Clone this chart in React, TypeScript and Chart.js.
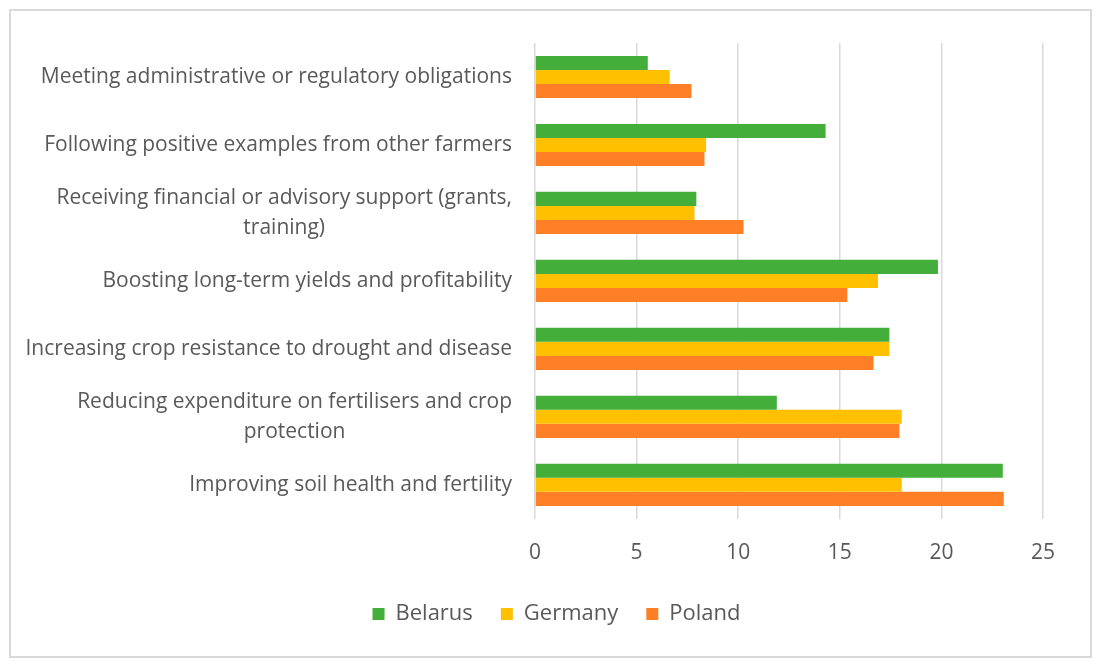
import React, { useEffect, useRef } from 'react'
import { Chart, registerables } from 'chart.js'

Chart.register(...registerables)

const FONT = '"Open Sans", sans-serif'
const TEXT = '#595959'
const GRID = '#D9D9D9'

const categories: string[][] = [
  ['Meeting administrative or regulatory obligations'],
  ['Following positive examples from other farmers'],
  ['Receiving financial or advisory support (grants,', 'training)'],
  ['Boosting long-term yields and profitability'],
  ['Increasing crop resistance to drought and disease'],
  ['Reducing expenditure on fertilisers and crop', 'protection'],
  ['Improving soil health and fertility'],
]

const belarus = [5.55, 14.3, 7.94, 19.83, 17.44, 11.9, 23.02]
const germany = [6.63, 8.42, 7.85, 16.88, 17.44, 18.05, 18.05]
const poland = [7.7, 8.34, 10.26, 15.37, 16.66, 17.93, 23.07]

const xTicks = [0, 5, 10, 15, 20, 25]

// draws the category labels: right edge at the axis, extra lines centred under the first
const categoryLabels = {
  id: 'categoryLabels',
  afterDraw(chart: Chart) {
    const y = chart.scales.y
    const ctx = chart.ctx
    const right = chart.chartArea.left - 23
    const lineH = 30
    ctx.save()
    ctx.font = `21px ${FONT}`
    ctx.fillStyle = TEXT
    ctx.textAlign = 'center'
    ctx.textBaseline = 'middle'
    categories.forEach((lines, i) => {
      const cy = y.getPixelForValue(i)
      const w = Math.max(...lines.map((l) => ctx.measureText(l).width))
      const top = cy - ((lines.length - 1) * lineH) / 2
      lines.forEach((l, j) => ctx.fillText(l, right - w / 2, top + j * lineH))
    })
    ctx.restore()
  },
}

export default function App() {
  const canvasRef = useRef<HTMLCanvasElement>(null)

  useEffect(() => {
    document.body.style.margin = '0'
    if (!canvasRef.current) return
    const chart = new Chart(canvasRef.current, {
      type: 'bar',
      data: {
        labels: categories.map((c) => c.join(' ')),
        datasets: [
          { label: 'Belarus', data: belarus, backgroundColor: '#44AE3B' },
          { label: 'Germany', data: germany, backgroundColor: '#FFC000' },
          { label: 'Poland', data: poland, backgroundColor: '#FF7F27' },
        ],
      },
      options: {
        indexAxis: 'y',
        animation: false,
        responsive: false,
        layout: { padding: { left: 70, right: 57, top: 43, bottom: 32 } },
        datasets: { bar: { categoryPercentage: 0.62, barPercentage: 1, borderWidth: 0 } },
        plugins: {
          tooltip: { enabled: false },
          legend: {
            position: 'bottom',
            labels: {
              color: TEXT,
              font: { family: FONT, size: 22 },
              boxWidth: 12,
              boxHeight: 12,
              padding: 28,
            },
          },
        },
        scales: {
          x: {
            min: 0,
            max: 25,
            afterBuildTicks: (s) => { s.ticks = xTicks.map((v) => ({ value: v })) },
            afterFit: (s) => { s.height -= 13 },
            grid: { color: GRID, lineWidth: 1.5, drawTicks: false },
            border: { display: false },
            ticks: { color: TEXT, font: { family: FONT, size: 21 }, padding: 22 },
          },
          y: {
            grid: { display: false },
            border: { display: false },
            ticks: { display: false },
            afterFit: (s) => { s.width = 465 },
          },
        },
      },
      plugins: [categoryLabels],
    })
    return () => chart.destroy()
  }, [])

  return (
    <div style={{ position: 'relative', width: 1100, height: 667, background: '#fff' }}>
      <div
        style={{
          position: 'absolute',
          left: 9,
          top: 9,
          width: 1079,
          height: 645,
          border: `2px solid ${GRID}`,
        }}
      />
      <canvas ref={canvasRef} width={1100} height={667} style={{ position: 'absolute', left: 0, top: 0 }} />
    </div>
  )
}
